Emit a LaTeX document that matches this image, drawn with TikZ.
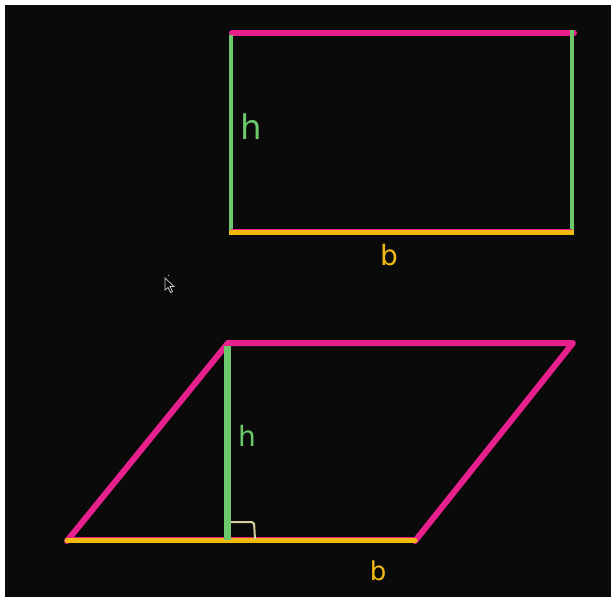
\documentclass[tikz,border=0pt]{standalone}
\usepackage{fontspec}
\newfontfamily\handfont{DejaVu Sans}
\definecolor{bgc}{HTML}{0A0A0A}
\definecolor{pinkc}{HTML}{E8208E}
\definecolor{greenc}{HTML}{6CC86A}
\definecolor{yellowc}{HTML}{F2BA10}
\definecolor{beigec}{HTML}{D8CFA0}
\tikzset{
  pinkline/.style={draw=pinkc, line width=6pt, line cap=round, line join=round},
  greenline/.style={draw=greenc, line width=4pt},
  yellowline/.style={draw=yellowc, line width=5pt, line cap=round},
  lbl/.style={inner sep=0pt, font=\handfont},
}
\begin{document}
\begin{tikzpicture}[x=1pt,y=-1pt]
\fill[white] (0,0) rectangle (611,597);
\fill[bgc] (5,5) rectangle (611,597);
\useasboundingbox (0,0) rectangle (611,597);
% rectangle
\coordinate (rtl) at (231,33);
\coordinate (rtr) at (572,33);
\coordinate (rbl) at (231,232);
\coordinate (rbr) at (572,232);
\draw[pinkline] ([xshift=1]rtl) -- ([xshift=2]rtr);
\draw[greenline] ([yshift=-2]rtl) -- (rbl);
\draw[greenline] ([yshift=3]rtr) -- (rbr);
\draw[draw=pinkc, line width=2pt] ([yshift=2.5]rbl) -- ([yshift=2.5]rbr);
\draw[yellowline, line cap=butt] ([xshift=-2]rbl) -- ([xshift=2]rbr);
\node[lbl, text=greenc, font=\handfont\fontsize{34}{34}\selectfont] (h1) at (251,127) {h};
\node[lbl, text=yellowc, font=\handfont\fontsize{28}{28}\selectfont] (b1) at (389,255) {b};
% cursor
\draw[white!80!black, line width=0.7pt, fill=bgc] (165,278) -- (165,290) -- (168,287.5) -- (170.5,292.5) -- (172.5,291.5) -- (170,286.5) -- (174,286.5) -- cycle;
\fill[white!70!black] (168.5,275.5) circle (0.6);
% parallelogram
\coordinate (ptl) at (228,343);
\coordinate (ptr) at (573,343);
\coordinate (pbl) at (67,541);
\coordinate (pbr) at (415,541);
\coordinate (pfoot) at (227,540);
\draw[pinkline] (ptl) -- (ptr) -- (pbr);
\draw[pinkline] (ptl) -- (pbl);
\draw[draw=pinkc, line width=3pt] ([yshift=2.5]pbl) -- ([yshift=2.5]pbr);
\draw[yellowline] ([yshift=0.5]pbl) -- ([yshift=0.5]pbr);
\draw[greenline, line width=7pt] ([xshift=-1,yshift=-3]ptl) -- (pfoot);
\draw[draw=beigec, line width=2pt, rounded corners=2pt] (231,522) -- (254,522) -- (255,539);
\node[lbl, text=greenc, font=\handfont\fontsize{28}{28}\selectfont] (h2) at (247,436) {h};
\node[lbl, text=yellowc, font=\handfont\fontsize{26}{26}\selectfont] (b2) at (378,571) {b};
\end{tikzpicture}
\end{document}
